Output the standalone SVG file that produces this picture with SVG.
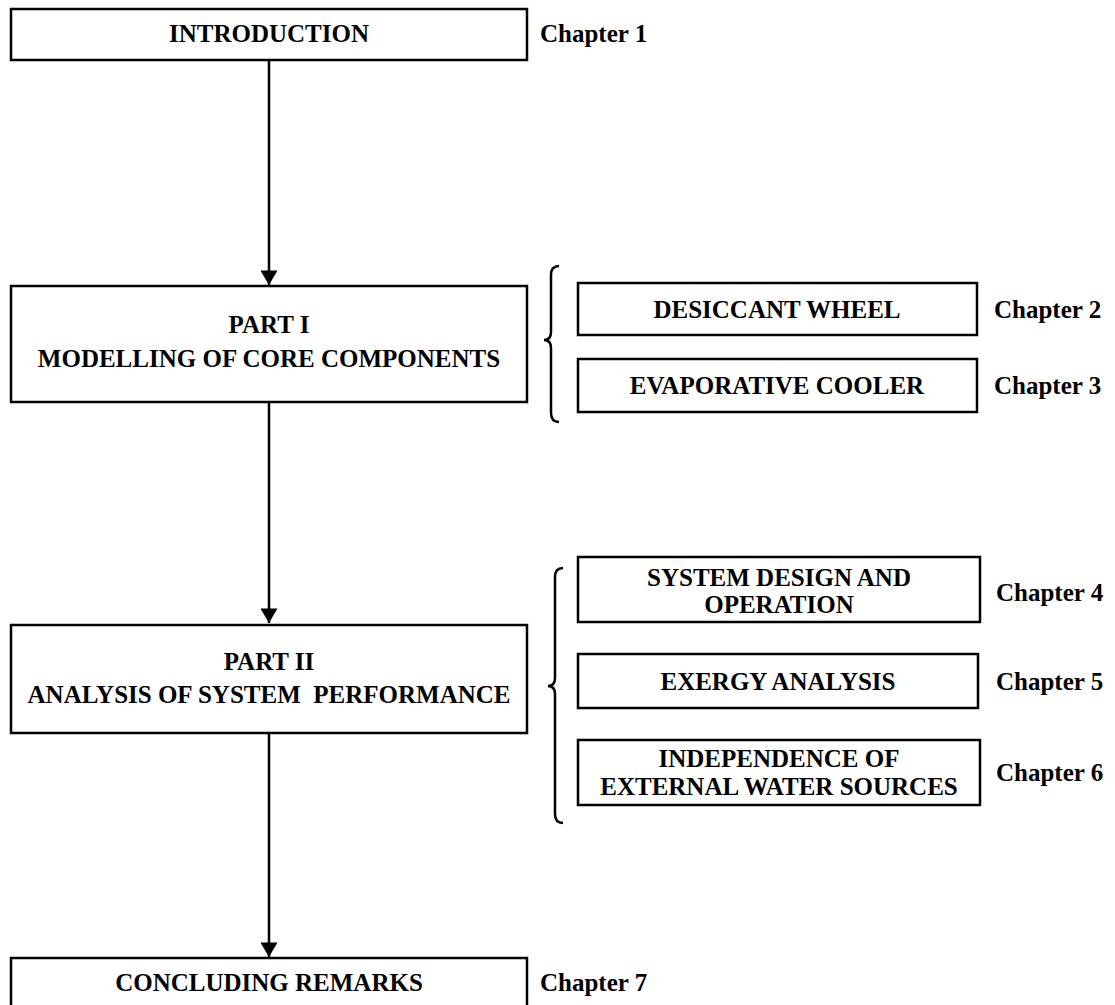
<svg xmlns="http://www.w3.org/2000/svg" width="1115" height="1005" viewBox="0 0 1115 1005">
<defs>
<style>
.box{fill:#fff;stroke:#000;stroke-width:2.5}
.t{font-family:"Liberation Serif","Times New Roman",serif;font-weight:bold;font-size:25px;fill:#000;text-anchor:middle;white-space:pre}
.ch{font-family:"Liberation Serif","Times New Roman",serif;font-weight:bold;font-size:25px;fill:#000;text-anchor:start}
.ln{fill:none;stroke:#000;stroke-width:2.5}
.br{fill:none;stroke:#000;stroke-width:2.5}
</style>
<marker id="ah" markerWidth="20" markerHeight="17" refX="17" refY="10" viewBox="0 0 17 20" orient="auto" markerUnits="userSpaceOnUse">
<path d="M0,0 L17,10 L0,20 Z" fill="#000"/>
</marker>
</defs>
<rect width="1115" height="1005" fill="#fff"/>
<g id="connectors">
<line class="ln" x1="269" y1="60" x2="269" y2="285" marker-end="url(#ah)"/>
<line class="ln" x1="269" y1="402" x2="269" y2="623" marker-end="url(#ah)"/>
<line class="ln" x1="269" y1="733" x2="269" y2="957" marker-end="url(#ah)"/>
<path class="br" d="M559,266 Q551,266 551,275 L551,332 Q551,340 544,340 Q551,340 551,348 L551,413 Q551,422 559,422"/>
<path class="br" d="M563,568 Q555,568 555,577 L555,678 Q555,686 548,686 Q555,686 555,694 L555,814 Q555,823 563,823"/>
</g>
<g id="intro">
<rect class="box" x="11" y="9" width="516" height="51"/>
<text class="t" x="269" y="42">INTRODUCTION</text>
<text class="ch" x="540" y="42">Chapter 1</text>
</g>
<g id="part1">
<rect class="box" x="11" y="286" width="516" height="116"/>
<text class="t" x="269" y="333">PART I</text>
<text class="t" x="269" y="367">MODELLING OF CORE COMPONENTS</text>
</g>
<g id="desiccant">
<rect class="box" x="578" y="283" width="399" height="52"/>
<text class="t" x="777" y="318">DESICCANT WHEEL</text>
<text class="ch" x="994" y="318">Chapter 2</text>
</g>
<g id="evaporative">
<rect class="box" x="578" y="359" width="399" height="53"/>
<text class="t" x="777" y="394">EVAPORATIVE COOLER</text>
<text class="ch" x="994" y="394">Chapter 3</text>
</g>
<g id="part2">
<rect class="box" x="11" y="625" width="516" height="108"/>
<text class="t" x="269" y="670">PART II</text>
<text class="t" x="269" y="703">ANALYSIS OF SYSTEM  PERFORMANCE</text>
</g>
<g id="sysdesign">
<rect class="box" x="578" y="557" width="402" height="65"/>
<text class="t" x="779" y="586">SYSTEM DESIGN AND</text>
<text class="t" x="779" y="613">OPERATION</text>
<text class="ch" x="996" y="601">Chapter 4</text>
</g>
<g id="exergy">
<rect class="box" x="578" y="654" width="400" height="54"/>
<text class="t" x="778" y="690">EXERGY ANALYSIS</text>
<text class="ch" x="996" y="690">Chapter 5</text>
</g>
<g id="independence">
<rect class="box" x="578" y="740" width="402" height="65"/>
<text class="t" x="779" y="767">INDEPENDENCE OF</text>
<text class="t" x="779" y="795">EXTERNAL WATER SOURCES</text>
<text class="ch" x="996" y="781">Chapter 6</text>
</g>
<g id="concluding">
<rect class="box" x="11" y="958" width="516" height="60"/>
<text class="t" x="269" y="991">CONCLUDING REMARKS</text>
<text class="ch" x="540" y="991">Chapter 7</text>
</g>
</svg>
